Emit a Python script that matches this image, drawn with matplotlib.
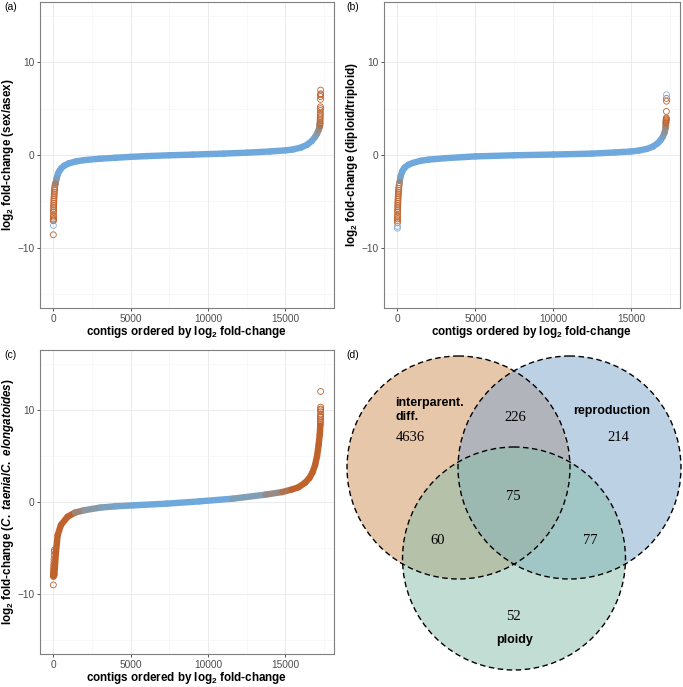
import matplotlib
matplotlib.use("Agg")
import matplotlib.pyplot as plt
import numpy as np
from matplotlib.collections import LineCollection
from matplotlib.colors import LinearSegmentedColormap, Normalize
from matplotlib.patches import Circle

plt.rcParams['font.family'] = ['Liberation Sans', 'DejaVu Sans']
plt.rcParams['mathtext.fontset'] = 'custom'
plt.rcParams['mathtext.rm'] = 'Liberation Sans:bold'
plt.rcParams['mathtext.it'] = 'Liberation Sans:italic:bold'
plt.rcParams['mathtext.bf'] = 'Liberation Sans:bold'
plt.rcParams['mathtext.default'] = 'rm'

n_contigs = 17280

# (a) sex / asex -- sorted log2 fold-change, main band
a_rank = [150, 200, 300, 400, 500, 700, 1000, 1500, 2000, 3000, 4000, 5000, 6000,
          7500, 9000, 10000, 11000, 12500, 14000, 15000, 15500, 16000, 16400,
          16700, 16900, 17050, 17150, 17220]
a_lfc = [-3.0, -2.6, -2.0, -1.7, -1.45, -1.15, -0.9, -0.68, -0.55, -0.4, -0.3,
         -0.2, -0.12, -0.03, 0.04, 0.1, 0.15, 0.25, 0.38, 0.5, 0.6, 0.8, 1.1,
         1.5, 1.9, 2.3, 2.7, 3.0]
a_lo_rank = [0, 2, 3, 4, 6, 8, 10, 13, 16, 19, 23, 27, 31, 36, 42, 48, 55, 63,
             72, 82, 95, 110, 130]
a_lo_lfc = [-8.6, -7.1, -7.0, -6.9, -6.7, -6.5, -6.2, -6.0, -5.8, -5.6, -5.4,
            -5.2, -5.0, -4.8, -4.6, -4.4, -4.2, -4.0, -3.8, -3.6, -3.4, -3.2, -3.1]
a_hi_rank = [17225, 17230, 17234, 17238, 17242, 17246, 17250, 17254, 17258,
             17261, 17264, 17267, 17270, 17272, 17274, 17276, 17278, 17279]
a_hi_lfc = [3.1, 3.2, 3.3, 3.4, 3.5, 3.7, 3.9, 4.1, 4.3, 4.5, 4.8, 5.0, 5.2,
            6.0, 6.3, 6.5, 6.6, 7.0]
a_ns_rank = [1]
a_ns_lfc = [-7.6]

# (b) diploid / triploid
b_rank = [150, 200, 300, 400, 500, 700, 1000, 1500, 2000, 3000, 5000, 7500,
          10000, 12500, 14000, 15000, 15500, 16000, 16400, 16700, 16900, 17050,
          17150, 17220]
b_lfc = [-2.8, -2.3, -1.8, -1.5, -1.3, -1.05, -0.85, -0.62, -0.5, -0.35, -0.15,
         -0.03, 0.05, 0.15, 0.28, 0.38, 0.48, 0.65, 0.9, 1.25, 1.6, 2.0, 2.4, 2.9]
b_lo_rank = [2, 3, 4, 6, 8, 10, 13, 16, 19, 23, 27, 31, 36, 42, 48, 55, 63, 72,
             82, 95, 110, 130]
b_lo_lfc = [-7.3, -7.1, -6.9, -6.7, -6.5, -6.2, -6.0, -5.8, -5.6, -5.4, -5.2,
            -5.0, -4.8, -4.6, -4.4, -4.2, -4.0, -3.8, -3.6, -3.4, -3.2, -3.0]
b_hi_rank = [17225, 17230, 17235, 17240, 17245, 17250, 17255, 17260, 17265,
             17270, 17275, 17277]
b_hi_lfc = [3.0, 3.2, 3.4, 3.5, 3.6, 3.7, 3.8, 3.9, 4.0, 4.7, 5.8, 6.1]
b_ns_rank = [0, 1, 17279]
b_ns_lfc = [-7.9, -7.7, 6.5]

# (c) C. taenia / C. elongatoides
c_rank = [30, 64, 170, 277, 490, 917, 1400, 1984, 3050, 4000, 5185, 7320, 9450,
          11590, 13720, 14790, 15400, 15850, 16280, 16550, 16750, 16920, 17050,
          17150, 17220, 17260]
c_lfc = [-8.0, -7.9, -5.4, -3.6, -2.5, -1.6, -1.15, -0.9, -0.6, -0.47, -0.36,
         -0.18, 0.07, 0.36, 0.8, 1.08, 1.35, 1.6, 2.1, 2.6, 3.2, 4.0, 5.0, 6.2,
         7.3, 8.3]
c_lo_rank = [0, 3, 6, 9, 12, 15, 18, 22, 26, 30, 36, 42, 50, 60, 70]
c_lo_lfc = [-9.0, -8.1, -8.0, -7.9, -7.8, -7.6, -7.4, -7.2, -7.0, -6.8, -6.5,
            -6.2, -5.8, -5.4, -5.2]
c_hi_rank = [17262, 17264, 17266, 17268, 17270, 17272, 17274, 17276, 17277,
             17278, 17279, 17279]
c_hi_lfc = [8.4, 8.6, 8.8, 9.0, 9.2, 9.3, 9.5, 9.8, 10.0, 10.1, 10.3, 12.0]
c_ns_rank = []
c_ns_lfc = []

# (d) Venn diagram counts
venn_regions = ["100", "010", "001", "110", "101", "011", "111"]
venn_counts = [4636, 214, 52, 226, 60, 77, 75]
venn_names = ["interparent.\ndiff.", "reproduction", "ploidy"]

cmap = LinearSegmentedColormap.from_list("sig", ["#6FA8DC", "#8E9496", "#C0622C"])


def fc_panel(ax, rank, lfc, lo_r, lo_v, hi_r, hi_v, ns_r, ns_v, vmin, vmax, ylab):
    norm = Normalize(vmin, vmax, clip=True)
    x = np.asarray(rank, float)
    y = np.asarray(lfc, float)
    pts = np.column_stack([x, y]).reshape(-1, 1, 2)
    segs = np.concatenate([pts[:-1], pts[1:]], axis=1)
    mid = np.abs((y[:-1] + y[1:]) / 2)
    lc = LineCollection(segs, colors=cmap(norm(mid)), linewidths=4.6,
                        capstyle='round', joinstyle='round', zorder=3)
    ax.add_collection(lc)
    for rr, vv in [(lo_r, lo_v), (hi_r, hi_v)]:
        vv = np.asarray(vv, float)
        ax.scatter(rr, vv, s=18, facecolors='none',
                   edgecolors=cmap(norm(np.abs(vv))), linewidths=0.6, zorder=4)
    if len(ns_r):
        ax.scatter(ns_r, ns_v, s=18, facecolors='none', edgecolors='#7FAEDC',
                   linewidths=0.6, zorder=4)

    ax.set_xlim(-0.05 * n_contigs, 1.05 * n_contigs)
    ax.set_ylim(-16.5, 16.5)
    ax.set_xticks([0, 5000, 10000, 15000])
    ax.set_xticks([2500, 7500, 12500, 17500], minor=True)
    ax.set_yticks([-10, 0, 10])
    ax.set_yticks([-15, -5, 5, 15], minor=True)
    ax.grid(True, which='major', color='#EBEBEB', lw=0.7, zorder=0)
    ax.grid(True, which='minor', color='#F4F4F4', lw=0.45, zorder=0)
    ax.set_axisbelow(True)
    ax.tick_params(which='major', length=2.5, width=0.6, color='#333333',
                   labelsize=7.3, labelcolor='#4D4D4D', pad=1.5)
    ax.tick_params(which='minor', length=0)
    for sp in ax.spines.values():
        sp.set_color('#7F7F7F')
        sp.set_linewidth(0.8)
    ax.set_xlabel(r"contigs ordered by log$_2$ fold-change", fontsize=8.4,
                  fontweight='bold', labelpad=0.5)
    ax.set_ylabel(ylab, fontsize=8.4, fontweight='bold', labelpad=1)


fig = plt.figure(figsize=(6.83, 6.87), dpi=100)
W, H = 683.0, 687.0


def px_axes(x0, y0, x1, y1):
    return fig.add_axes([x0 / W, 1 - y1 / H, (x1 - x0) / W, (y1 - y0) / H])


ax_a = px_axes(40, 2, 334, 308)
ax_b = px_axes(384, 2, 680, 308)
ax_c = px_axes(40, 350, 334, 654)

fc_panel(ax_a, a_rank, a_lfc, a_lo_rank, a_lo_lfc, a_hi_rank, a_hi_lfc,
         a_ns_rank, a_ns_lfc, 1.8, 3.6, r"log$_2$ fold-change (sex/asex)")
fc_panel(ax_b, b_rank, b_lfc, b_lo_rank, b_lo_lfc, b_hi_rank, b_hi_lfc,
         b_ns_rank, b_ns_lfc, 1.8, 3.6, r"log$_2$ fold-change (diploid/triploid)")
fc_panel(ax_c, c_rank, c_lfc, c_lo_rank, c_lo_lfc, c_hi_rank, c_hi_lfc,
         c_ns_rank, c_ns_lfc, 0.3, 1.4,
         r"log$_2$ fold-change ($\it{C.\ taenia}$/$\it{C.\ elongatoides}$)")

fig.text(4 / W, 1 - 7 / H, "(a)", fontsize=7.5, va='center', ha='left')
fig.text(346 / W, 1 - 7 / H, "(b)", fontsize=7.5, va='center', ha='left')
fig.text(4 / W, 1 - 355 / H, "(c)", fontsize=7.5, va='center', ha='left')
fig.text(346 / W, 1 - 355 / H, "(d)", fontsize=7.5, va='center', ha='left')

# Venn panel in pixel units
ax_d = px_axes(340, 342, 683, 687)
ax_d.set_xlim(340, 683)
ax_d.set_ylim(687, 342)
ax_d.axis('off')

circ_xy = [(458.5, 467.5), (569.5, 467.5), (514, 558.5)]
circ_r = 111.5
circ_col = ['#D19155', '#7DA5CD', '#87BDA9']
for (cx, cy), col in zip(circ_xy, circ_col):
    ax_d.add_patch(Circle((cx, cy), circ_r, facecolor=col, alpha=0.5,
                          edgecolor='none'))
for (cx, cy) in circ_xy:
    ax_d.add_patch(Circle((cx, cy), circ_r, facecolor='none', edgecolor='black',
                          lw=1.0, linestyle=(0, (4, 2.5))))

count_pos = [(410, 437), (618, 437), (513, 616), (515, 417), (438, 541),
             (590, 541), (513, 496)]
for reg, cnt, (tx, ty) in zip(venn_regions, venn_counts, count_pos):
    ax_d.text(tx, ty, str(cnt), fontsize=10.5, family='Liberation Serif',
              ha='center', va='center')

name_pos = [(395, 410, 'left'), (612, 411, 'center'), (515, 640, 'center')]
for nm, (tx, ty, ha) in zip(venn_names, name_pos):
    ax_d.text(tx, ty, nm, fontsize=9, fontweight='bold', ha=ha, va='center',
              linespacing=1.15)

fig.savefig("out.png", dpi=100)
